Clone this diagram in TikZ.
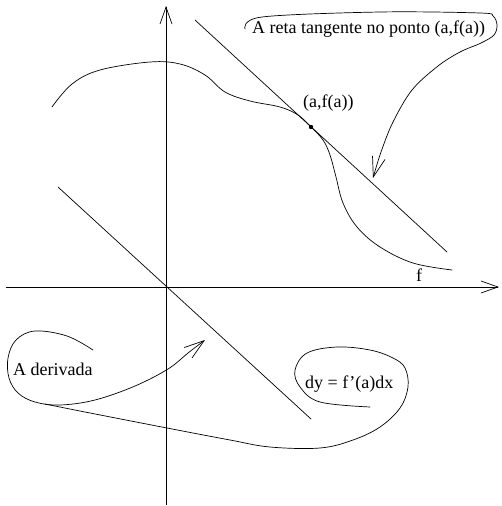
\documentclass[tikz,border=0pt]{standalone}
\usepackage{fontspec}
\setmainfont{Liberation Serif}
\usetikzlibrary{arrows.meta}
\tikzset{
  axis/.style={line width=0.7pt, -{Straight Barb[length=17pt,width=12pt]}},
  curve/.style={line width=0.7pt, line cap=round},
  pointer/.style={line width=0.7pt, line cap=round, -{Straight Barb[length=20pt,width=13pt]}},
  lbl/.style={inner sep=0pt, anchor=base west, font=\fontsize{18}{20}\selectfont},
}

\begin{document}
\begin{tikzpicture}[x=1pt,y=-1pt]
  \useasboundingbox (0,0) rectangle (501,506);
  % eixos
  \coordinate (O) at (166,287);
  \coordinate (xl) at (6,287);
  \coordinate (xr) at (499,287);
  \coordinate (yb) at (166,505);
  \coordinate (yt) at (166,6);
  \draw[axis] (xl) -- (xr);
  \draw[axis] (yb) -- (yt);
  % reta tangente e reta derivada
  \coordinate (P) at (311,127);
  \coordinate (t1) at (195,20);
  \coordinate (t2) at (447,252);
  \coordinate (d1) at (58,187);
  \coordinate (d2) at (311,419);
  \draw[curve] (t1) -- (t2);
  \draw[curve] (d1) -- (d2);
  % a funcao f
  \draw[curve] plot[smooth, tension=0.6] coordinates {(52,107) (72,84) (100,70) (150,62) (180,64) (205,75) (225,92) (250,101) (280,107) (298,115) (P) (323,140) (330,155) (336,177) (343,203) (357,227) (380,247) (413,263) (452,270)};
  \fill (P) circle (2.2pt);
  % textos
  \node[lbl] (Plbl) at (303,107) {(a,f(a))};
  \node[lbl] (flbl) at (416,281) {f};
  \node[lbl] (tang) at (252,33) {A reta tangente no ponto (a,f(a))};
  \node[lbl] (deriv) at (13,375) {A derivada};
  \node[lbl] (dy) at (305,388) {dy = f'(a)dx};
  % balao da tangente
  \coordinate (tip1) at (373,178);
  \draw[pointer] plot[smooth, tension=0.55] coordinates {(245,29) (262,17) (380,12) (480,13) (493,16) (497,25) (494,35) (481,43) (460,52) (438,66) (412,90) (393,122) (381,152) (tip1)};
  % balao da derivada
  \coordinate (tip2) at (205,340);
  \draw[pointer] plot[smooth, tension=0.6] coordinates {(93,350) (67,336) (35,331) (16,340) (8,358) (9,378) (18,393) (35,402) (60,405) (95,400) (135,386) (168,369) (188,353) (tip2)};
  \draw[curve] plot[smooth, tension=0.6] coordinates {(45,404) (85,412) (167,428) (230,440) (270,447) (320,448) (353,440) (380,427) (400,408) (408,387) (405,368) (393,358) (370,350) (337,347) (307,353) (295,370) (300,387) (320,402) (370,407)};
\end{tikzpicture}
\end{document}
